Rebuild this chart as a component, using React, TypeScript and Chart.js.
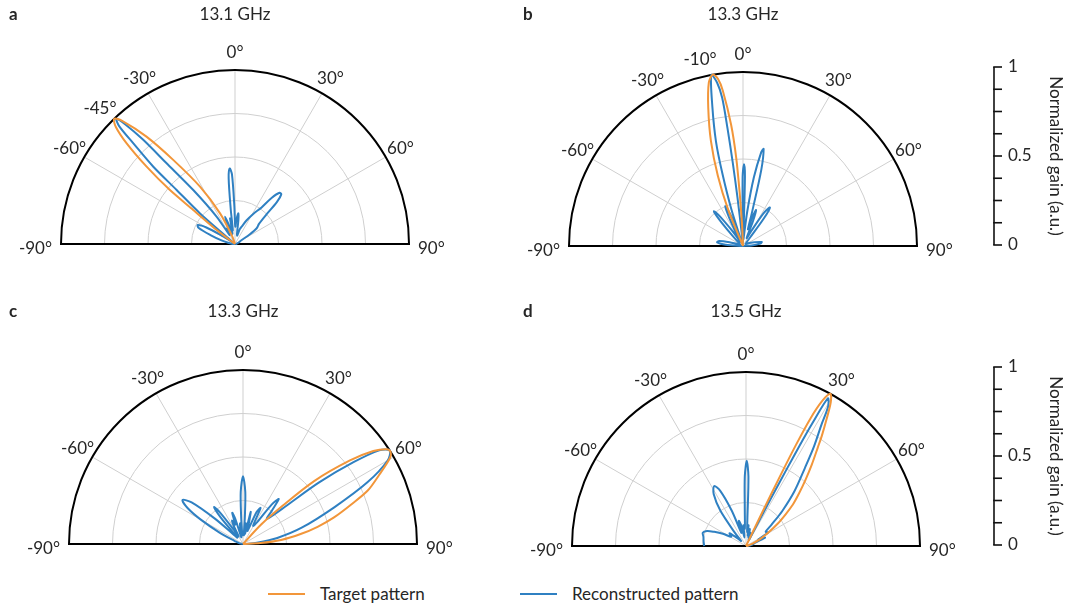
import React, { useEffect, useRef } from 'react';
import { Chart, registerables } from 'chart.js';

Chart.register(...registerables);

// ---------- data ----------
const angleTicks = [-90, -60, -30, 0, 30, 60, 90];
const spokeAngles = [-60, -30, 0, 30, 60];
const ringGains = [0.25, 0.5, 0.75];
const gainTicks = [0, 0.125, 0.25, 0.375, 0.5, 0.625, 0.75, 0.875, 1];
const gainTickLabels = ['0', '', '', '', '0.5', '', '', '', '1'];
const gainAxisTitle = 'Normalized gain (a.u.)';
const legendLabels = ['Target pattern', 'Reconstructed pattern'];

const panelLetters = ['a', 'b', 'c', 'd'];
const panelTitles = ['13.1 GHz', '13.3 GHz', '13.3 GHz', '13.5 GHz'];
const panelMarks = [[-45], [-10], [], []];

// panel a (13.1 GHz)
const aTargetAngle = [-90, -53.5, -52.6, -50.8, -50.3, -48.8, -47.1, -45.5, -44, -42.5, -39.5, -36.3, -31.4, -26, -20, -16, 90];
const aTargetGain = [0, 0, 0.13, 0.31, 0.49, 0.675, 0.85, 0.96, 1.0, 0.96, 0.8, 0.6, 0.386, 0.196, 0.05, 0, 0];
const aReconAngle = [-90, -85, -80, -75, -70, -66, -63, -60, -57, -54, -51, -49.5, -48.8, -47.2, -46.6, -45.3, -44.5, -43.5, -42.5, -41.4, -40.3, -37.7, -33.9, -31, -28, -25, -22, -20, -18, -14, -11, -9, -7, -5.5, -4, -2.5, -1, 1, 4, 6.2, 8, 11, 15, 18, 21, 26, 31, 36, 38.5, 41, 43, 45, 47, 50, 54, 57, 60, 70, 80, 90];
const aReconGain = [0, 0.02, 0.04, 0.08, 0.15, 0.23, 0.24, 0.19, 0.08, 0.03, 0.02, 0.05, 0.267, 0.457, 0.646, 0.82, 0.95, 0.99, 0.93, 0.8, 0.61, 0.39, 0.19, 0.06, 0.1, 0.08, 0.12, 0.167, 0.12, 0.06, 0.15, 0.08, 0.2, 0.38, 0.435, 0.4, 0.22, 0.1, 0.15, 0.177, 0.14, 0.06, 0.05, 0.09, 0.107, 0.15, 0.2, 0.26, 0.34, 0.39, 0.39, 0.34, 0.24, 0.18, 0.154, 0.1, 0.04, 0.02, 0.01, 0];

// panel b (13.3 GHz)
const bTargetAngle = [-90, -25, -22.2, -19.7, -17, -14.1, -11.8, -10, -8.5, -7.4, -5.6, -4.4, -3.6, -2.5, -1.5, 90];
const bTargetGain = [0, 0, 0.23, 0.43, 0.63, 0.82, 0.96, 1.0, 0.97, 0.9, 0.7, 0.51, 0.31, 0.12, 0, 0];
const bReconAngle = [-90, -86, -82, -78, -74, -70, -60, -50, -45, -42, -40, -38, -35, -32, -29, -26, -24, -22, -20, -19, -17.6, -15.9, -14.5, -12.4, -10.5, -9, -8, -7.5, -7, -6.5, -5.8, -4, -1.5, -0.3, 0.7, 1.6, 2.5, 4, 7, 9, 11, 12, 13.5, 15, 16.5, 18, 20, 22, 25, 29, 32, 35, 37, 40, 50, 60, 72, 78, 82, 86, 90];
const bReconGain = [0, 0.1, 0.15, 0.14, 0.08, 0.03, 0.02, 0.04, 0.1, 0.2, 0.26, 0.22, 0.1, 0.03, 0.06, 0.18, 0.25, 0.2, 0.06, 0.02, 0.22, 0.43, 0.62, 0.82, 1.0, 0.95, 0.86, 0.68, 0.48, 0.28, 0.08, 0.02, 0.05, 0.4, 0.47, 0.4, 0.05, 0.04, 0.2, 0.4, 0.55, 0.57, 0.45, 0.2, 0.1, 0.18, 0.22, 0.15, 0.05, 0.1, 0.22, 0.27, 0.2, 0.06, 0.02, 0.03, 0.07, 0.11, 0.1, 0.05, 0];

// panel c (13.3 GHz)
const cTargetAngle = [-90, 40, 43, 46, 48.5, 52, 54.5, 56.6, 58, 59.6, 63, 66.8, 70, 73.7, 77, 80.2, 84, 87, 90];
const cTargetGain = [0, 0, 0.153, 0.316, 0.546, 0.78, 0.92, 0.99, 1.0, 0.98, 0.88, 0.78, 0.66, 0.545, 0.44, 0.336, 0.22, 0.1, 0];
const cReconAngle = [-90, -80, -70, -64, -60, -57, -54, -51, -48, -45, -42, -40, -38, -36, -33, -30, -27, -25, -22, -19, -17, -14, -11, -8, -5.5, -4, -2.5, 0, 2.5, 4, 5.5, 8, 11, 13.5, 16, 19, 23, 26, 29, 33, 36, 38.5, 41, 43.5, 48, 51, 53.5, 55.5, 57.5, 60, 63.6, 68, 74.5, 80, 85, 88, 90];
const cReconGain = [0, 0.02, 0.05, 0.15, 0.28, 0.38, 0.43, 0.38, 0.22, 0.08, 0.05, 0.2, 0.27, 0.22, 0.1, 0.05, 0.12, 0.15, 0.12, 0.19, 0.15, 0.04, 0.08, 0.12, 0.05, 0.15, 0.3, 0.39, 0.3, 0.15, 0.05, 0.12, 0.06, 0.19, 0.12, 0.08, 0.2, 0.23, 0.12, 0.15, 0.28, 0.33, 0.25, 0.2, 0.3, 0.56, 0.79, 0.95, 1.0, 0.96, 0.8, 0.57, 0.35, 0.2, 0.08, 0.02, 0];

// panel d (13.5 GHz)
const dTargetAngle = [-90, 25.5, 25.8, 26.0, 26.3, 26.8, 27.7, 29, 30.5, 32.5, 34.5, 36.1, 39, 42, 45.2, 48.5, 51.4, 55, 59, 64, 70, 80, 90];
const dTargetGain = [0, 0, 0.22, 0.45, 0.65, 0.82, 0.94, 1.0, 0.96, 0.86, 0.77, 0.7, 0.6, 0.51, 0.43, 0.36, 0.29, 0.22, 0.15, 0.09, 0.04, 0.01, 0];
const dReconAngle = [-90, -84, -78, -73, -69, -66, -62, -58, -52, -48, -44, -40, -36, -32, -28, -25, -22, -19, -16, -13, -10, -7, -4, -2, -1, 0.5, 2, 3, 5, 7, 10, 13, 16, 19, 22, 24, 27, 27.6, 27.9, 28.1, 28.4, 29, 30.5, 31.9, 34.4, 37.1, 41.5, 46, 50.2, 54, 58.5, 62, 66, 70, 80, 90];
const dReconGain = [0.24, 0.245, 0.25, 0.26, 0.24, 0.2, 0.15, 0.1, 0.12, 0.07, 0.04, 0.1, 0.25, 0.35, 0.39, 0.35, 0.22, 0.08, 0.15, 0.12, 0.05, 0.12, 0.1, 0.2, 0.4, 0.49, 0.4, 0.15, 0.08, 0.12, 0.06, 0.1, 0.05, 0.08, 0.04, 0.05, 0.04, 0.3, 0.5, 0.65, 0.8, 0.97, 0.93, 0.82, 0.69, 0.56, 0.42, 0.29, 0.19, 0.14, 0.15, 0.08, 0.12, 0.06, 0.03, 0];

// ---------- style / layout ----------
const ORANGE = '#F2963A';
const BLUE = '#2F80C2';
const TEXT = '#262626';
const GRID = '#cfcfcf';
const FONT = 'Lato, "Open Sans", "Noto Sans", sans-serif';
const FONT_SIZE = 17;

type Panel = {
  left: number; top: number; w: number; h: number;
  cx: number; cy: number; R: number;
  titleY: number; letterX: number; markNudge: number;
  gainAxisX: number | null;
  targetAngle: number[]; targetGain: number[];
  reconAngle: number[]; reconGain: number[];
  idx: number;
};

const panels: Panel[] = [
  { idx: 0, left: 0, top: 0, w: 500, h: 290, cx: 235, cy: 244, R: 174, titleY: 15, letterX: 9, markNudge: 0, gainAxisX: null,
    targetAngle: aTargetAngle, targetGain: aTargetGain, reconAngle: aReconAngle, reconGain: aReconGain },
  { idx: 1, left: 500, top: 0, w: 573, h: 290, cx: 243, cy: 246, R: 174, titleY: 15, letterX: 23, markNudge: -3, gainAxisX: 494,
    targetAngle: bTargetAngle, targetGain: bTargetGain, reconAngle: bReconAngle, reconGain: bReconGain },
  { idx: 2, left: 0, top: 290, w: 500, h: 280, cx: 243, cy: 254, R: 174, titleY: 22, letterX: 9, markNudge: 0, gainAxisX: null,
    targetAngle: cTargetAngle, targetGain: cTargetGain, reconAngle: cReconAngle, reconGain: cReconGain },
  { idx: 3, left: 500, top: 290, w: 573, h: 280, cx: 246, cy: 256, R: 174, titleY: 22, letterX: 23, markNudge: 0, gainAxisX: 494,
    targetAngle: dTargetAngle, targetGain: dTargetGain, reconAngle: dReconAngle, reconGain: dReconGain },
];

const toPoints = (angles: number[], gains: number[]) =>
  angles.map((a, i) => {
    const r = (a * Math.PI) / 180;
    return { x: gains[i] * Math.sin(r), y: gains[i] * Math.cos(r) };
  });

const polarPlugin = {
  id: 'polarDecor',
  beforeDatasetsDraw(chart: any) {
    const { ctx } = chart;
    const xs = chart.scales.x, ys = chart.scales.y;
    const cx = xs.getPixelForValue(0), cy = ys.getPixelForValue(0);
    const rx = xs.getPixelForValue(1) - cx, ry = cy - ys.getPixelForValue(1);
    ctx.save();
    ctx.strokeStyle = GRID;
    ctx.lineWidth = 1;
    for (const g of ringGains) {
      ctx.beginPath();
      ctx.ellipse(cx, cy, rx * g, ry * g, 0, Math.PI, 2 * Math.PI);
      ctx.stroke();
    }
    for (const a of spokeAngles) {
      const r = (a * Math.PI) / 180;
      ctx.beginPath();
      ctx.moveTo(cx, cy);
      ctx.lineTo(xs.getPixelForValue(Math.sin(r)), ys.getPixelForValue(Math.cos(r)));
      ctx.stroke();
    }
    ctx.strokeStyle = '#000';
    ctx.lineWidth = 2;
    ctx.beginPath();
    ctx.ellipse(cx, cy, rx, ry, 0, Math.PI, 2 * Math.PI);
    ctx.closePath();
    ctx.stroke();
    ctx.restore();
  },
  afterDatasetsDraw(chart: any, _args: any, o: any) {
    const { ctx } = chart;
    const xs = chart.scales.x, ys = chart.scales.y;
    const cx = xs.getPixelForValue(0), cy = ys.getPixelForValue(0);
    const rx = xs.getPixelForValue(1) - cx, ry = cy - ys.getPixelForValue(1);
    ctx.save();
    ctx.fillStyle = TEXT;
    ctx.font = `${FONT_SIZE}px ${FONT}`;
    ctx.textBaseline = 'middle';
    const labelAt = (deg: number, text: string) => {
      if (Math.abs(deg) === 90) {
        ctx.textAlign = deg < 0 ? 'right' : 'left';
        ctx.fillText(text, cx + Math.sign(deg) * (rx + 9), cy + 5);
        return;
      }
      const r = (deg * Math.PI) / 180;
      ctx.textAlign = 'center';
      ctx.fillText(text, cx + (rx + 17) * Math.sin(r), cy - (ry + 17) * Math.cos(r));
    };
    angleTicks.forEach((t) => labelAt(t, `${t}°`));
    (o.marks as number[]).forEach((m) => labelAt(m + o.markNudge, `${m}°`));

    ctx.textAlign = 'center';
    ctx.fillText(o.title, cx, o.titleY);
    ctx.font = `bold ${FONT_SIZE}px ${FONT}`;
    ctx.textAlign = 'left';
    ctx.fillText(o.letter, o.letterX, o.titleY);

    if (o.gainAxisX != null) {
      const ax = o.gainAxisX;
      const bottom = cy - 1;
      const top = cy - ry - 5;
      const gy = (g: number) => bottom + (top - bottom) * g;
      ctx.strokeStyle = '#111';
      ctx.lineWidth = 1.6;
      ctx.beginPath();
      ctx.moveTo(ax, gy(0));
      ctx.lineTo(ax, gy(1));
      ctx.stroke();
      ctx.font = `${FONT_SIZE}px ${FONT}`;
      ctx.textAlign = 'left';
      gainTicks.forEach((g, i) => {
        ctx.beginPath();
        ctx.moveTo(ax - 0.8, gy(g));
        ctx.lineTo(ax + 8, gy(g));
        ctx.stroke();
        if (gainTickLabels[i]) ctx.fillText(gainTickLabels[i], ax + 14, gy(g));
      });
      ctx.save();
      ctx.translate(ax + 61, (gy(0) + gy(1)) / 2);
      ctx.rotate(Math.PI / 2);
      ctx.textAlign = 'center';
      ctx.fillText(gainAxisTitle, 0, 0);
      ctx.restore();
    }
    ctx.restore();
  },
};

function PolarPanel({ p }: { p: Panel }) {
  const ref = useRef<HTMLCanvasElement>(null);
  useEffect(() => {
    const canvas = ref.current;
    if (!canvas) return;
    const chart = new Chart(canvas, {
      type: 'scatter',
      data: {
        datasets: [
          {
            label: legendLabels[0],
            data: toPoints(p.targetAngle, p.targetGain),
            showLine: true,
            borderColor: ORANGE,
            backgroundColor: ORANGE,
            borderWidth: 2,
            pointRadius: 0,
            tension: 0.3,
            clip: false,
          },
          {
            label: legendLabels[1],
            data: toPoints(p.reconAngle, p.reconGain),
            showLine: true,
            borderColor: BLUE,
            backgroundColor: BLUE,
            borderWidth: 2,
            pointRadius: 0,
            tension: 0.3,
            clip: false,
          },
        ],
      },
      options: {
        responsive: false,
        animation: false,
        devicePixelRatio: 1,
        events: [],
        layout: {
          padding: {
            left: p.cx - p.R,
            right: p.w - p.cx - p.R,
            top: p.cy - p.R,
            bottom: p.h - p.cy,
          },
        },
        scales: {
          x: { type: 'linear', min: -1, max: 1, display: false },
          y: { type: 'linear', min: 0, max: 1, display: false },
        },
        plugins: {
          legend: { display: false },
          tooltip: { enabled: false },
          polarDecor: {
            title: panelTitles[p.idx],
            letter: panelLetters[p.idx],
            marks: panelMarks[p.idx],
            markNudge: p.markNudge,
            titleY: p.titleY,
            letterX: p.letterX,
            gainAxisX: p.gainAxisX,
          },
        } as any,
      },
      plugins: [polarPlugin],
    } as any);
    return () => chart.destroy();
  }, [p]);
  return (
    <canvas
      ref={ref}
      width={p.w}
      height={p.h}
      style={{ position: 'absolute', left: p.left, top: p.top, width: p.w, height: p.h }}
    />
  );
}

export default function App() {
  const legendItems = [
    { label: legendLabels[0], color: ORANGE, lineX: 268, textX: 320 },
    { label: legendLabels[1], color: BLUE, lineX: 520, textX: 572 },
  ];
  return (
    <div style={{ position: 'absolute', left: 0, top: 0, width: 1073, height: 606, background: '#fff', overflow: 'hidden' }}>
      {panels.map((p) => (
        <PolarPanel key={p.idx} p={p} />
      ))}
      {legendItems.map((it) => (
        <React.Fragment key={it.label}>
          <div style={{ position: 'absolute', left: it.lineX, top: 593, width: 37, height: 2, background: it.color }} />
          <span
            style={{ position: 'absolute', left: it.textX, top: 584, font: `${FONT_SIZE}px ${FONT}`, lineHeight: '20px', color: TEXT, whiteSpace: 'nowrap' }}
          >
            {it.label}
          </span>
        </React.Fragment>
      ))}
    </div>
  );
}
